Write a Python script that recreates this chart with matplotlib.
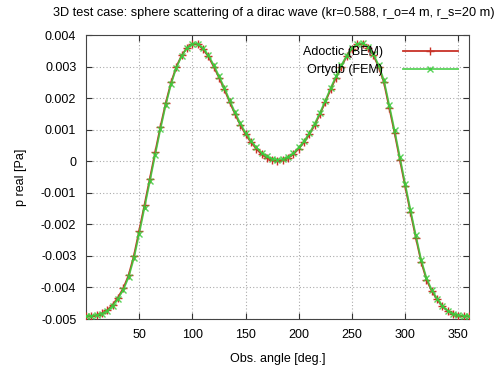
import numpy as np
import matplotlib
matplotlib.use("Agg")
import matplotlib.pyplot as plt

plt.rcParams['font.family'] = ['Liberation Sans', 'DejaVu Sans']

# observation angles (deg)
angles = list(range(0, 361, 5))

# real pressure, BEM result (in 1e-3 Pa)
p_bem = [-4.92, -4.91, -4.88, -4.82, -4.72, -4.55, -4.32, -4.03, -3.62, -3.00,
         -2.20, -1.38, -0.55, 0.28, 1.10, 1.85, 2.50, 3.00, 3.36, 3.60,
         3.72, 3.70, 3.55, 3.32, 3.00, 2.65, 2.28, 1.88, 1.50, 1.15,
         0.85, 0.60, 0.40, 0.22, 0.10, 0.03, 0.00, 0.03, 0.10, 0.22,
         0.40, 0.60, 0.85, 1.15, 1.50, 1.88, 2.28, 2.65, 3.00, 3.32,
         3.55, 3.70, 3.72, 3.60, 3.36, 3.00, 2.50, 1.70, 0.90, 0.05,
         -0.80, -1.62, -2.42, -3.18, -3.75, -4.12, -4.38, -4.60, -4.75, -4.84,
         -4.89, -4.91, -4.92]

# real pressure, FEM result (in 1e-3 Pa)
p_fem = [-4.91, -4.90, -4.88, -4.83, -4.74, -4.58, -4.36, -4.08, -3.68, -3.08,
         -2.30, -1.47, -0.64, 0.20, 1.02, 1.79, 2.45, 2.97, 3.34, 3.60,
         3.73, 3.72, 3.58, 3.36, 3.05, 2.70, 2.33, 1.93, 1.55, 1.20,
         0.90, 0.65, 0.44, 0.27, 0.15, 0.08, 0.05, 0.07, 0.14, 0.26,
         0.44, 0.64, 0.89, 1.19, 1.54, 1.92, 2.32, 2.69, 3.04, 3.35,
         3.58, 3.72, 3.74, 3.63, 3.40, 3.05, 2.57, 1.78, 0.98, 0.13,
         -0.72, -1.55, -2.35, -3.12, -3.70, -4.08, -4.35, -4.58, -4.74, -4.83,
         -4.88, -4.90, -4.91]

x_ticks = [50, 100, 150, 200, 250, 300, 350]
y_ticks = [-0.005, -0.004, -0.003, -0.002, -0.001, 0, 0.001, 0.002, 0.003, 0.004]
y_labels = ['-0.005', '-0.004', '-0.003', '-0.002', '-0.001', '0',
            '0.001', '0.002', '0.003', '0.004']

fig = plt.figure(figsize=(4.95, 3.7), dpi=100)
ax = fig.add_axes([0.1737, 0.1378, 0.7738, 0.7676])

ax.plot(angles, np.array(p_bem) * 1e-3, color='#c83228', lw=1.3,
        marker='+', ms=6, mew=1.0, label='Adoctic (BEM)', zorder=3)
ax.plot(angles, np.array(p_fem) * 1e-3, color='#3ccc3c', lw=1.3,
        marker='x', ms=5, mew=1.0, label='Ortydb (FEM)', zorder=4, alpha=0.85)

ax.set_xlim(0, 360)
ax.set_ylim(-0.005, 0.004)
ax.set_xticks(x_ticks)
ax.set_yticks(y_ticks)
ax.set_yticklabels(y_labels)
ax.tick_params(direction='in', top=True, right=True, labelsize=9,
               length=4, color='#333333', pad=7)
ax.grid(True, linestyle=(0, (1, 2)), color='#aaaaaa', lw=0.8)
for s in ax.spines.values():
    s.set_color('#444444')

ax.set_xlabel('Obs. angle [deg.]', fontsize=9, labelpad=9)
ax.set_ylabel('p real [Pa]', fontsize=9, labelpad=10)
fig.text(0.107, 0.965, '3D test case: sphere scattering of a dirac wave '
         '(kr=0.588, r_o=4 m, r_s=20 m)', fontsize=9.2, ha='left', va='center')

ax.legend(loc='upper right', frameon=False, markerfirst=False, fontsize=9,
          handlelength=4.4, borderaxespad=0.5, labelspacing=0.45,
          handletextpad=1.6)

fig.savefig('out.png', dpi=100)
